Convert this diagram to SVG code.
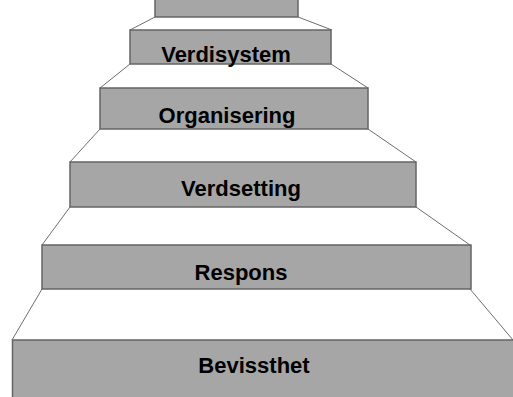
<svg xmlns="http://www.w3.org/2000/svg" width="513" height="397" viewBox="0 0 513 397">
  <style>
    .riser { fill: #a6a6a6; stroke: #646464; stroke-width: 1.5; }
    .tread { fill: #ffffff; stroke: #6e6e6e; stroke-width: 1; }
    .label { font-family: "Liberation Sans", Arial, sans-serif; font-weight: bold; font-size: 22px; fill: #000000; text-anchor: middle; }
  </style>
  <rect width="513" height="397" fill="#ffffff"/>

  <!-- treads: the slanted side lines between risers -->
  <g id="connectors">
    <path class="tread" d="M155,17 L130,30 M298,17 L332,30"/>
    <path class="tread" d="M130,64 L100,88 M331,64 L368,88"/>
    <path class="tread" d="M100,129 L70,162 M368,129 L416,162"/>
    <path class="tread" d="M70,207 L42,245 M416,207 L470,245"/>
    <path class="tread" d="M42,289 L12,340 M470,289 L513,340"/>
  </g>

  <!-- topmost step, cut off by the frame -->
  <g id="step-top">
    <rect class="riser" x="155" y="-5" width="143" height="22"/>
  </g>

  <g id="step-verdisystem">
    <rect class="riser" x="130" y="30" width="201" height="34"/>
    <text class="label" x="226" y="62">Verdisystem</text>
  </g>

  <g id="step-organisering">
    <rect class="riser" x="100" y="88" width="268" height="41"/>
    <text class="label" x="227" y="123">Organisering</text>
  </g>

  <g id="step-verdsetting">
    <rect class="riser" x="70" y="162" width="346" height="45"/>
    <text class="label" x="241" y="196">Verdsetting</text>
  </g>

  <g id="step-respons">
    <rect class="riser" x="42" y="245" width="429" height="44"/>
    <text class="label" x="241" y="280">Respons</text>
  </g>

  <g id="step-bevissthet">
    <rect class="riser" x="12.5" y="340" width="510" height="70"/>
    <text class="label" x="254" y="373">Bevissthet</text>
  </g>
</svg>
